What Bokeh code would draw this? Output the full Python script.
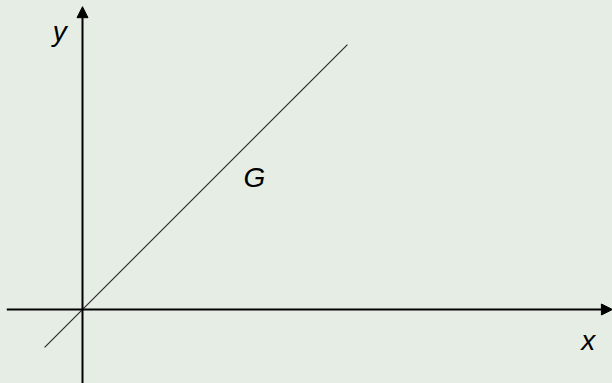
from bokeh.plotting import figure
from bokeh.models import Range1d, Arrow, NormalHead, Label
from bokeh.embed import file_html
from bokeh.resources import INLINE

# data (in axis units)
line_x = [-0.5, 3.5]
line_y = [-0.5, 3.5]
x_axis_span = [-1.0, 7.0]
y_axis_span = [-1.0, 4.0]
labels = ["y", "x", "G"]
label_x = [-0.30, 6.68, 2.27]
label_y = [3.67, -0.41, 1.74]

BG = "#e5ede4"
W, H = 612, 383
S = 75.7  # pixels per unit
ox, oy = 82, 309  # origin pixel position

p = figure(width=W, height=H, output_backend="svg", toolbar_location=None,
           x_range=Range1d(-ox / S, (W - ox) / S),
           y_range=Range1d(-(H - oy) / S, oy / S),
           min_border=0)
p.axis.visible = False
p.grid.visible = False
p.outline_line_color = None
p.background_fill_color = BG
p.border_fill_color = BG

p.line(line_x, line_y, line_color="#222222", line_width=1.1)

p.add_layout(Arrow(x_start=x_axis_span[0], y_start=0, x_end=x_axis_span[1], y_end=0,
                   line_color="black", line_width=2,
                   end=NormalHead(size=11, fill_color="black", line_color="black", line_width=1)))
p.add_layout(Arrow(x_start=0, y_start=y_axis_span[0], x_end=0, y_end=y_axis_span[1],
                   line_color="black", line_width=2,
                   end=NormalHead(size=11, fill_color="black", line_color="black", line_width=1)))

for t, lx, ly in zip(labels, label_x, label_y):
    p.add_layout(Label(x=lx, y=ly, text=t, text_font="Liberation Sans",
                       text_font_style="italic", text_font_size="28px",
                       text_align="center", text_baseline="middle", text_color="black"))

html = file_html(p, INLINE)
html = html.replace("<head>", "<head><style>html,body{margin:0;padding:0;background:%s;}</style>" % BG, 1)
open("out.html", "w").write(html)
